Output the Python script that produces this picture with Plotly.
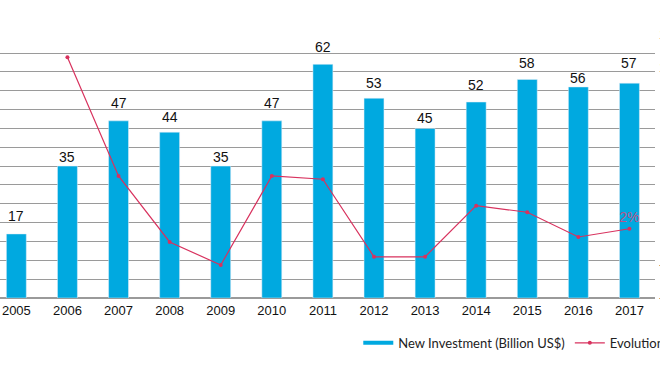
import plotly.graph_objects as go

years = ["2005", "2006", "2007", "2008", "2009", "2010", "2011",
         "2012", "2013", "2014", "2015", "2016", "2017"]
investment = [17, 35, 47, 44, 35, 47, 62, 53, 45, 52, 58, 56, 57]
evolution = [None, 106, 34, -6, -20, 34, 32, -15, -15, 16, 12, -3, 2]
evo_labels = ["", "", "", "", "", "", "", "", "", "", "", "", "2%"]
pct_ticks = [-40, -20, 0, 20, 40, 60, 80, 100, 120]

# vertical offset (px) of each value label above its bar top (styling)
label_shift = [18, 9, 18, 15, 9, 18, 17, 15, 10, 17, 16, 9, 20]

BLUE = "#00A9E0"
RED = "#D8325E"
GRID = "#9a9a9a"
NB = "\u00a0"


def pct_text(v):
    s = f"{v}%".replace("-", "\u2212")
    pad = max(0, 4 - len(s)) * 2  # right-align labels
    return NB * pad + s


fig = go.Figure()
fig.add_trace(go.Bar(
    x=years, y=investment, marker_color=BLUE, width=0.39,
    showlegend=False, name="New Investment (Billion US$)",
))
fig.add_trace(go.Scatter(
    x=[None], y=[None], mode="lines", line=dict(color=BLUE, width=4),
    name="New Investment (Billion US$)",
))
fig.add_trace(go.Scatter(
    x=years, y=evolution, yaxis="y2", mode="lines+markers+text",
    line=dict(color=RED, width=1.2), marker=dict(color=RED, size=4),
    text=evo_labels, textposition="top center",
    textfont=dict(family="Liberation Sans", size=14, color="#B8558A"),
    name="Evolution (%)", connectgaps=False, cliponaxis=False,
))

for i, (v, s) in enumerate(zip(investment, label_shift)):
    fig.add_annotation(x=i, y=v, xref="x", yref="y", text=str(v),
                       showarrow=False, yanchor="middle", yshift=s,
                       font=dict(family="Liberation Sans", size=14, color="#111"))

fig.update_layout(
    width=660, height=371,
    margin=dict(l=0, r=5, t=34, b=73, autoexpand=False),
    plot_bgcolor="white", paper_bgcolor="white",
    font=dict(family="Liberation Sans", size=13, color="#111"),
    xaxis=dict(type="category", range=[-0.32, 12.5], showgrid=False,
               showline=False, ticks="", tickfont=dict(size=13),
               ticklabelstandoff=3, automargin=False),
    yaxis=dict(range=[0, 70.05], tick0=0, dtick=5, showgrid=True, gridcolor=GRID,
               gridwidth=1, zeroline=True, zerolinecolor=GRID,
               showticklabels=False, automargin=False),
    yaxis2=dict(overlaying="y", side="right", range=[-40, 120.1],
                tickvals=pct_ticks, ticktext=[pct_text(v) for v in pct_ticks],
                showgrid=False, zeroline=False, ticklabelstandoff=3,
                tickfont=dict(size=13), automargin=False),
    legend=dict(orientation="h", x=0.547, y=-0.17, xanchor="left",
                yanchor="middle", font=dict(family="Lato", size=13, color="#222")),
    bargap=0.6,
)

fig.write_html("out.html", config={"displayModeBar": False},
               post_script="document.body.style.margin='0';")
